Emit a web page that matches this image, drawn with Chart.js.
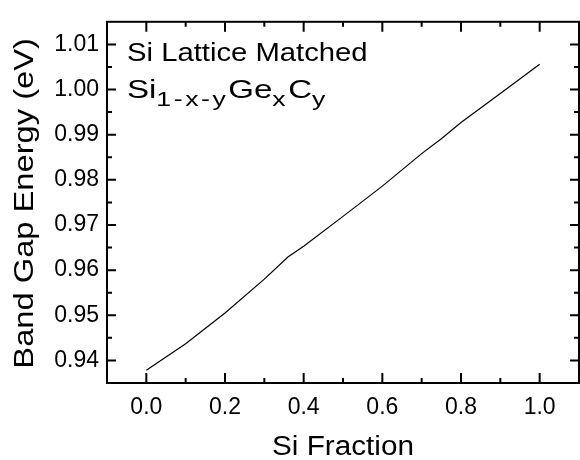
<!DOCTYPE html>
<html>
<head>
<meta charset="utf-8">
<script src="https://cdn.jsdelivr.net/npm/chart.js@4/dist/chart.umd.min.js"></script>
<style>
  body { margin: 0; background: #fff; }
  canvas { display: block; }
</style>
</head>
<body>
<canvas id="chart" width="580" height="460"></canvas>
<script>
// Values
const siFraction = [0, 0.1, 0.2, 0.3, 0.36, 0.4, 0.5, 0.6, 0.7, 0.75, 0.8, 0.9, 1.0];
const bandGap = [0.9378, 0.9437, 0.9505, 0.9580, 0.9629, 0.9653, 0.9719, 0.9786, 0.9858, 0.9891, 0.9927, 0.9991, 1.0056];

const xTicks = [0, 0.2, 0.4, 0.6, 0.8, 1.0];
const xMinorTicks = [0.1, 0.3, 0.5, 0.7, 0.9];
const yTicks = [0.94, 0.95, 0.96, 0.97, 0.98, 0.99, 1.00, 1.01];
const yMinorTicks = [0.945, 0.955, 0.965, 0.975, 0.985, 0.995, 1.005];

const xTitle = 'Si Fraction';
const yTitle = 'Band Gap Energy (eV)';

const FONT = "'Liberation Sans', Arial, Helvetica, sans-serif";

// draws a run of text pieces, stretched sideways like the original type
function drawRun(ctx, parts, x0, y0, sx) {
    ctx.save();
    ctx.translate(x0, y0);
    ctx.scale(sx, 1);
    let x = 0;
    parts.forEach(p => {
        ctx.font = p.size + 'px ' + FONT;
        if (p.gap) {
            for (const ch of p.t) {
                ctx.fillText(ch, x, p.dy || 0);
                x += ctx.measureText(ch).width + p.gap;
            }
        } else {
            ctx.fillText(p.t, x, p.dy || 0);
            x += ctx.measureText(p.t).width;
        }
    });
    ctx.restore();
}

// box, inward ticks on all four sides, titles and the corner label
const framePlugin = {
    id: 'frame',
    afterDraw(chart) {
        const ctx = chart.ctx;
        const a = chart.chartArea;
        const xs = chart.scales.x;
        const ys = chart.scales.y;
        ctx.save();
        ctx.strokeStyle = '#000';
        ctx.lineWidth = 2;
        ctx.strokeRect(a.left, a.top, a.right - a.left, a.bottom - a.top);

        function xTick(v, len) {
            const px = xs.getPixelForValue(v);
            ctx.beginPath();
            ctx.moveTo(px, a.bottom); ctx.lineTo(px, a.bottom - len);
            ctx.moveTo(px, a.top); ctx.lineTo(px, a.top + len);
            ctx.stroke();
        }
        function yTick(v, len) {
            const py = ys.getPixelForValue(v);
            ctx.beginPath();
            ctx.moveTo(a.left, py); ctx.lineTo(a.left + len, py);
            ctx.moveTo(a.right, py); ctx.lineTo(a.right - len, py);
            ctx.stroke();
        }
        xTicks.forEach(v => xTick(v, 10));
        xMinorTicks.forEach(v => xTick(v, 5));
        yTicks.forEach(v => yTick(v, 9));
        yMinorTicks.forEach(v => yTick(v, 5));

        ctx.fillStyle = '#000';
        ctx.textBaseline = 'alphabetic';
        ctx.textAlign = 'left';

        // axis titles
        ctx.font = '27px ' + FONT;
        let w = ctx.measureText(xTitle).width * 1.1;
        drawRun(ctx, [{ t: xTitle, size: 27 }], (a.left + a.right) / 2 - w / 2, 455, 1.1);

        ctx.save();
        ctx.translate(33, (a.top + a.bottom) / 2 + 1);
        ctx.rotate(-Math.PI / 2);
        ctx.font = '27px ' + FONT;
        w = ctx.measureText(yTitle).width * 1.21;
        drawRun(ctx, [{ t: yTitle, size: 27 }], -w / 2, 0, 1.21);
        ctx.restore();

        // corner label
        drawRun(ctx, [{ t: 'Si Lattice Matched', size: 25 }], a.left + 20, 61, 1.17);
        drawRun(ctx, [
            { t: 'Si', size: 26 },
            { t: '1-x-y', size: 21, dy: 8, gap: 2 },
            { t: 'Ge', size: 26 },
            { t: 'x', size: 21, dy: 8, gap: 2 },
            { t: 'C', size: 26 },
            { t: 'y', size: 21, dy: 8 }
        ], a.left + 20, 98, 1.27);
        ctx.restore();
    }
};

new Chart(document.getElementById('chart'), {
    type: 'scatter',
    data: {
        datasets: [{
            data: siFraction.map((x, i) => ({ x: x, y: bandGap[i] })),
            showLine: true,
            borderColor: '#000',
            borderWidth: 1.2,
            pointRadius: 0,
            tension: 0
        }]
    },
    options: {
        responsive: false,
        animation: false,
        layout: { padding: { top: 10, right: 1, left: 0, bottom: 0 } },
        plugins: {
            legend: { display: false },
            tooltip: { enabled: false }
        },
        scales: {
            x: {
                type: 'linear',
                min: -0.1,
                max: 1.1,
                afterBuildTicks: s => { s.ticks = xTicks.map(v => ({ value: v })); },
                afterFit: s => { s.height = 77; },
                grid: { display: false, drawTicks: false },
                border: { display: false },
                ticks: {
                    color: '#000',
                    padding: 11,
                    font: { family: FONT, size: 23 },
                    callback: v => v.toFixed(1)
                }
            },
            y: {
                type: 'linear',
                min: 0.935,
                max: 1.015,
                afterBuildTicks: s => { s.ticks = yTicks.map(v => ({ value: v })); },
                afterFit: s => { s.width = 107; },
                grid: { display: false, drawTicks: false },
                border: { display: false },
                ticks: {
                    color: '#000',
                    padding: 8,
                    font: { family: FONT, size: 23 },
                    callback: v => v.toFixed(2)
                }
            }
        }
    },
    plugins: [framePlugin]
});
</script>
</body>
</html>
